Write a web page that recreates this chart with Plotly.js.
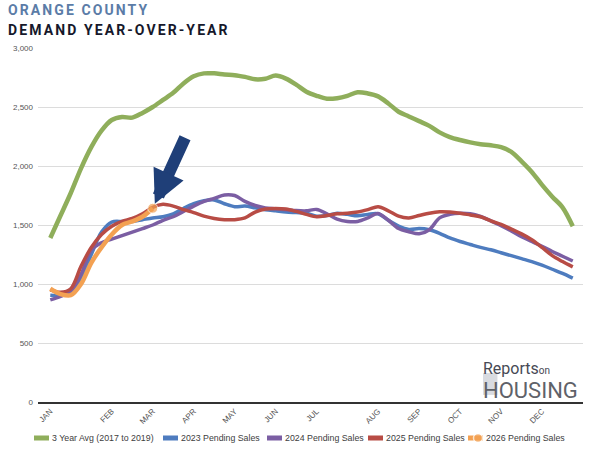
<!DOCTYPE html>
<html>
<head>
<meta charset="utf-8">
<script src="https://cdn.plot.ly/plotly-3.0.1.min.js"></script>
<style>
  html, body { margin: 0; padding: 0; background: #ffffff; }
  #chart { width: 600px; height: 457px; }
  text[data-unformatted*="COUNTY"], text[data-unformatted*="DEMAND"] { letter-spacing: 2.1px; }
  .legendlines path { d: path("M22,0h15"); }
  .legendpoints path { transform: translate(32px, 0px) scale(0.75); }
</style>
</head>
<body>
<div id="chart"></div>
<script>
// ---- Data (weekly index 0..51) ----
const monthLabels = ['JAN','FEB','MAR','APR','MAY','JUN','JUL','AUG','SEP','OCT','NOV','DEC'];
const monthWeeks  = [0, 6, 10, 14, 18, 22, 26, 32, 36, 40, 44, 48];

const avg3yr = [1390,1580,1771,1980,2160,2300,2390,2415,2410,2450,2500,2560,2620,2700,2760,2785,
  2785,2775,2770,2755,2735,2740,2766,2740,2690,2630,2595,2570,2575,2595,2625,2615,2590,2530,2460,
  2420,2380,2340,2285,2245,2220,2200,2185,2175,2160,2120,2040,1950,1840,1740,1650,1490];

const sales2023 = [905,905,930,1040,1250,1440,1525,1530,1530,1545,1560,1570,1595,1640,1680,1705,
  1712,1680,1655,1660,1645,1630,1620,1610,1605,1600,1575,1580,1600,1590,1578,1590,1595,1540,1490,
  1462,1470,1460,1430,1390,1360,1335,1310,1290,1265,1240,1215,1190,1160,1125,1090,1050];

const sales2024 = [865,895,940,1080,1290,1350,1380,1410,1440,1470,1500,1540,1570,1615,1660,1700,
  1726,1755,1750,1700,1665,1645,1638,1630,1622,1620,1632,1595,1550,1530,1530,1560,1598,1540,1470,
  1443,1425,1460,1560,1590,1600,1595,1572,1535,1495,1450,1400,1360,1320,1275,1235,1195];

const sales2025 = [950,930,960,1150,1310,1420,1490,1530,1555,1595,1650,1675,1660,1630,1605,1575,
  1555,1545,1545,1560,1610,1635,1640,1635,1615,1590,1570,1580,1595,1600,1610,1630,1655,1620,1575,
  1560,1580,1600,1612,1610,1600,1585,1570,1535,1505,1465,1425,1375,1310,1240,1190,1145];

const sales2026 = [960,915,905,1000,1180,1310,1420,1500,1530,1570,1642];

const seriesNames = ['3 Year Avg (2017 to 2019)','2023 Pending Sales','2024 Pending Sales','2025 Pending Sales','2026 Pending Sales'];
const yTicks = [0,500,1000,1500,2000,2500,3000];

// ---- Build traces ----
const weeks = n => Array.from({length: n}, (_, i) => i);
const tickFont = {family: '"Liberation Sans", Arial, sans-serif', size: 8, color: '#555555'};
const legendIds = ['legend','legend2','legend3','legend4','legend5'];
const legendTextStartPx = [52, 181, 285, 386, 486];

function lineTrace(vals, idx, color, width) {
  return {
    type: 'scatter', mode: 'lines', x: weeks(vals.length), y: vals, name: seriesNames[idx],
    legend: legendIds[idx],
    line: {color: color, width: width, shape: 'spline', smoothing: 0.9},
    hoverinfo: 'skip'
  };
}

const traces = [
  lineTrace(avg3yr, 0, '#8fae5b', 4.5),
  lineTrace(sales2023, 1, '#4e7cbf', 3.5),
  lineTrace(sales2024, 2, '#7b5ea3', 3.5),
  lineTrace(sales2025, 3, '#b84c45', 3.5),
  Object.assign(lineTrace(sales2026, 4, '#f3a152', 4.5), {
    mode: 'lines+markers',
    marker: {color: '#f3a152', size: sales2026.map((v, i) => i === sales2026.length - 1 ? 10 : 0)}
  })
];

const layout = {
  width: 600, height: 457,
  margin: {l: 38, r: 17, t: 48, b: 55},
  paper_bgcolor: '#ffffff', plot_bgcolor: '#ffffff',
  showlegend: true,
  xaxis: {
    range: [-1.2, 52],
    tickmode: 'array', tickvals: monthWeeks, ticktext: monthLabels,
    tickangle: -45, tickfont: tickFont,
    showgrid: false, zeroline: false,
    showline: true, linecolor: '#333333', linewidth: 1.6,
    ticks: '', fixedrange: true
  },
  yaxis: {
    range: [0, 3000],
    tickmode: 'array', tickvals: yTicks, tickformat: ',d',
    tickfont: tickFont,
    showgrid: true, gridcolor: '#dcdcdc', gridwidth: 1,
    zeroline: false, showline: false, ticks: '', ticklabelstandoff: 4,
    fixedrange: true
  },
  annotations: [
    {xref: 'paper', yref: 'paper', x: -0.059, y: 1.108, xanchor: 'left', yanchor: 'middle',
     text: '<b>ORANGE COUNTY</b>', showarrow: false,
     font: {family: 'Roboto, "Liberation Sans", sans-serif', size: 14, color: '#5b7ca7'}},
    {xref: 'paper', yref: 'paper', x: -0.059, y: 1.052, xanchor: 'left', yanchor: 'middle',
     text: '<b>DEMAND YEAR-OVER-YEAR</b>', showarrow: false,
     font: {family: 'Roboto, "Liberation Sans", sans-serif', size: 14, color: '#16182b'}},
    {x: sales2026.length - 1, y: sales2026[sales2026.length - 1], xref: 'x', yref: 'y',
     text: '', showarrow: true, arrowhead: 2, arrowsize: 0.55, arrowwidth: 12,
     arrowcolor: '#1f3f78', ax: 33, ay: -72, standoff: 5},
    {xref: 'paper', yref: 'paper', x: 0.8135, y: 0.058, xanchor: 'left', yanchor: 'middle',
     align: 'left',
     text: '<span style="font-size:16px;color:#474a55">Reports</span><span style="font-size:10px;color:#474a55">on</span><br><span style="font-size:22px">HOUSING</span>',
     showarrow: false,
     font: {family: 'Roboto, "Liberation Sans", sans-serif', size: 18.5, color: '#5f6269'}}
  ],
  shapes: [
    {type: 'rect', xref: 'paper', yref: 'paper', x0: 0.8165, x1: 0.843, y0: 0.02, y1: 0.082,
     fillcolor: '#d9dbe0', line: {width: 0}, layer: 'below'}
  ]
};

legendIds.forEach((id, i) => {
  layout[id] = {
    orientation: 'h', xref: 'container', yref: 'container',
    x: (legendTextStartPx[i] - 40) / 600, xanchor: 'left', y: 1 - 438 / 457, yanchor: 'middle',
    font: {family: '"Liberation Sans", Arial, sans-serif', size: 8.8, color: '#404040'},
    itemsizing: 'constant', bgcolor: 'rgba(0,0,0,0)', borderwidth: 0
  };
});

Plotly.newPlot('chart', traces, layout, {displayModeBar: false, staticPlot: true});
</script>
</body>
</html>
